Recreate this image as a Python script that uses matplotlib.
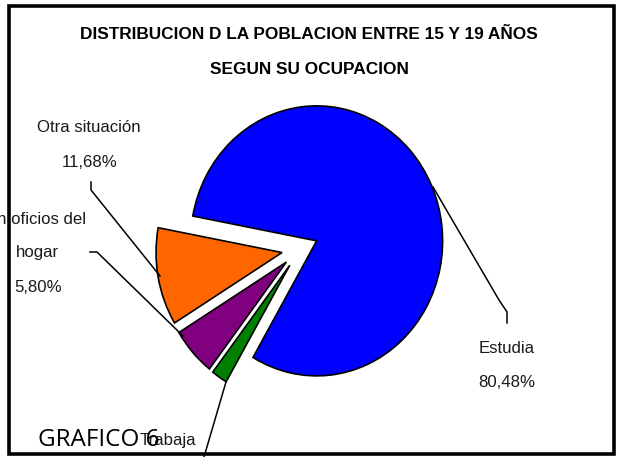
import matplotlib
matplotlib.use("Agg")
import matplotlib.pyplot as plt
from matplotlib import font_manager as fm
from matplotlib.patches import Rectangle
from matplotlib.lines import Line2D

# ---- data ----
categories = ["Estudia", "Trabaja", "En oficios del\nhogar", "Otra situación"]
values = [80.48, 2.04, 5.80, 11.68]
value_labels = ["80,48%", "2,04%", "5,80%", "11,68%"]
colors = ["#0000FF", "#008000", "#800080", "#FF6600"]
title_lines = ["DISTRIBUCION D LA POBLACION ENTRE 15 Y 19 AÑOS", "SEGUN SU OCUPACION"]
footer = "GRAFICO 6"

avail = {f.name for f in fm.fontManager.ttflist}
if "Liberation Sans Narrow" in avail:
    NARROW, k = "Liberation Sans Narrow", 1.0
else:
    NARROW, k = "Liberation Sans", 0.86

W, H = 617, 457
fig = plt.figure(figsize=(W / 100, H / 100), dpi=100)
ax = fig.add_axes([0, 0, 1, 1])

# pie geometry (pixels)
cx, cy, sx, sy = 300, 249, 126, 135
ax.pie(values, colors=colors, startangle=169.4, counterclock=False,
       explode=[0.145] * len(values), radius=1.0, center=(0, 0),
       wedgeprops=dict(edgecolor="black", linewidth=1.2))
ax.set_aspect("auto")
ax.set_xlim(-cx / sx, (W - cx) / sx)
ax.set_ylim(-(H - cy) / sy, cy / sy)
ax.axis("off")


def P(x, y):
    return x / W, 1 - y / H


def txt(x, y, s, **kw):
    fx, fy = P(x, y)
    fig.text(fx, fy, s, ha="center", va="baseline", **kw)


def line(pts):
    xs = [p[0] / W for p in pts]
    ys = [1 - p[1] / H for p in pts]
    fig.add_artist(Line2D(xs, ys, color="black", lw=1.1, transform=fig.transFigure))


# frame
fig.add_artist(Rectangle(P(9, 454), (614 - 9) / W, (454 - 5.5) / H, fill=False,
                         edgecolor="black", lw=2.6, transform=fig.transFigure, zorder=0))

# title
txt(309, 39, title_lines[0], family=NARROW, weight="bold", fontsize=14.4 * k, color="black")
txt(309, 74, title_lines[1], family=NARROW, weight="bold", fontsize=14.4 * k, color="black")

lab_kw = dict(family=NARROW, fontsize=14 * k, color="#1a1a1a")
# Otra situación
txt(89, 132, categories[3], **lab_kw)
txt(90, 167, value_labels[3], **lab_kw)
line([(91, 182), (91, 190), (160, 276)])
# En oficios del hogar
l1, l2 = categories[2].split("\n")
txt(36, 224, l1, **lab_kw)
txt(37, 257, l2, **lab_kw)
txt(38, 292, value_labels[2], **lab_kw)
line([(90, 252), (97, 252), (183, 336)])
# Estudia
txt(507, 353, categories[0], **lab_kw)
txt(507, 387, value_labels[0], **lab_kw)
line([(433, 187), (499, 300), (507, 312), (507, 323)])
# Trabaja
line([(226, 382), (204, 457)])
txt(168, 445, categories[1], **lab_kw)

# footer
fx, fy = P(38, 446)
fig.text(fx, fy, footer, ha="left", va="baseline", family="Open Sans", fontsize=17.5, color="black")

fig.savefig("out.png", dpi=100)
